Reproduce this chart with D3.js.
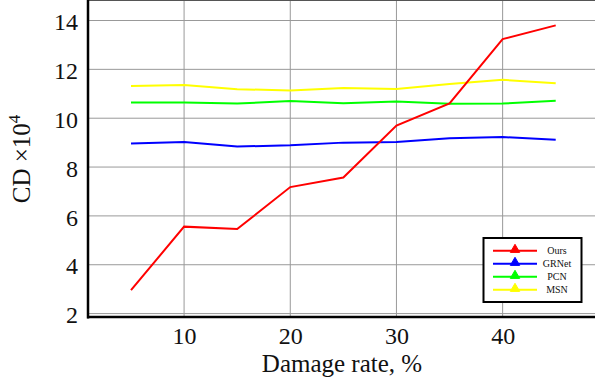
<!DOCTYPE html>
<html><head><meta charset="utf-8">
<script src="https://cdn.jsdelivr.net/npm/d3@7"></script>
<style>body{margin:0;background:#fff}svg{display:block}text{font-family:"Liberation Serif","DejaVu Serif",serif}</style>
</head><body><svg id="c" width="595" height="381"></svg>
<script>
const rates = [5,10,15,20,25,30,35,40,45];
const ours  = [2.96,5.56,5.46,7.18,7.57,9.70,10.61,13.24,13.80];
const grnet = [8.96,9.03,8.84,8.89,9.00,9.03,9.18,9.23,9.12];
const pcn   = [10.64,10.64,10.60,10.70,10.61,10.68,10.59,10.60,10.71];
const msn   = [11.32,11.36,11.19,11.13,11.24,11.20,11.40,11.57,11.43];
const seriesNames = ["Ours","GRNet","PCN","MSN"];
const seriesColors = ["#ff0000","#0000ff","#00ff00","#ffff00"];
const xTicks = [10,20,30,40];
const yTicks = [2,4,6,8,10,12,14];

const svg = d3.select("#c");
const L=88, R=595, T=0, B=317;
const x = d3.scaleLinear().domain([0.95,48.7]).range([L,R]);
const y = d3.scaleLinear().domain([1.86,14.84]).range([B,T]);
const FONT = "'Liberation Serif', 'DejaVu Serif', serif";

const g = svg.append("g");
g.selectAll(".gx").data(xTicks).join("line")
 .attr("x1",d=>x(d)).attr("x2",d=>x(d)).attr("y1",T).attr("y2",B)
 .attr("stroke","#999").attr("stroke-width",1);
g.selectAll(".gy").data(yTicks).join("line")
 .attr("x1",L).attr("x2",R).attr("y1",d=>y(d)).attr("y2",d=>y(d))
 .attr("stroke","#999").attr("stroke-width",1);
g.append("line").attr("x1",L).attr("x2",R).attr("y1",0.5).attr("y2",0.5).attr("stroke","#555").attr("stroke-width",1);

const xAxis = d3.axisBottom(x).tickValues(xTicks).tickSize(0).tickPadding(10);
const yAxis = d3.axisLeft(y).tickValues(yTicks).tickSize(0).tickPadding(10);
const gx = svg.append("g").attr("transform",`translate(0,${B})`).call(xAxis);
const gy = svg.append("g").attr("transform",`translate(${L},0)`).call(yAxis);
[gx,gy].forEach(a=>{
  a.attr("font-family",null).attr("font-size",null);
  a.select(".domain").remove();
  a.selectAll("text").style("font-family",FONT).style("font-size","24px").attr("fill","#111");
});
gy.selectAll("text").attr("dy","0.38em");
gx.selectAll("text").attr("dy","0.71em");
svg.append("line").attr("x1",L).attr("x2",L).attr("y1",0).attr("y2",B+1.5).attr("stroke","#000").attr("stroke-width",2.5);
svg.append("line").attr("x1",L-1).attr("x2",R).attr("y1",B).attr("y2",B).attr("stroke","#000").attr("stroke-width",2.5);

const all = [ours,grnet,pcn,msn];
const line = d3.line().x((d,i)=>x(rates[i])).y(d=>y(d));
[3,2,1,0].forEach(k=>{
  svg.append("path").datum(all[k]).attr("d",line).attr("fill","none")
   .attr("stroke",seriesColors[k]).attr("stroke-width",2);
});

svg.append("text").attr("x",342).attr("y",372).attr("text-anchor","middle")
  .style("font-family",FONT).style("font-size","25px").attr("fill","#111").text("Damage rate, %");
const yl = svg.append("text").attr("transform","translate(30,159) rotate(-90)").attr("text-anchor","middle")
  .style("font-family",FONT).style("font-size","25px").attr("fill","#111");
yl.append("tspan").text("CD ×10");
yl.append("tspan").style("font-size","17px").attr("dy",-10).text("4");

const lg = svg.append("g");
lg.append("rect").attr("x",483.5).attr("y",238).attr("width",98).attr("height",64).attr("fill","#fff").attr("stroke","#000").attr("stroke-width",2);
seriesNames.forEach((n,i)=>{
  const yy = 250.7 + i*13;
  lg.append("line").attr("x1",493).attr("x2",537).attr("y1",yy).attr("y2",yy).attr("stroke",seriesColors[i]).attr("stroke-width",2);
  lg.append("path").attr("d",d3.symbol(d3.symbolTriangle,38)()).attr("transform",`translate(515,${yy-1})`)
    .attr("fill",seriesColors[i]).attr("stroke",seriesColors[i]).attr("stroke-width",1);
  lg.append("text").attr("x",557).attr("y",yy+3.5).attr("text-anchor","middle")
    .style("font-family",FONT).style("font-size","10px").attr("fill","#111").text(n);
});
</script></body></html>
